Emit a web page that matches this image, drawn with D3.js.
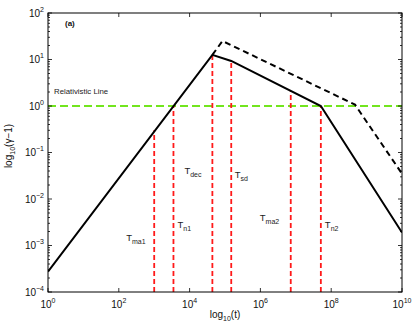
<!DOCTYPE html>
<html><head><meta charset="utf-8">
<script src="https://cdn.jsdelivr.net/npm/d3@7"></script>
<style>
html,body{margin:0;padding:0;background:#fff;}
svg{display:block;font-family:"Liberation Sans",Arial,Helvetica,sans-serif;}
</style></head>
<body><svg id="c" width="415" height="330"></svg>
<script>
// ---- data ----
const solidT = [1, 4.4e4, 1.5e5, 5.1e7, 1e10];
const solidG = [2.75e-4, 12.6, 9.3, 1.0, 1.9e-3];
const dashT = [4.4e4, 8.5e4, 4.7e8, 1e10];
const dashG = [12.6, 25, 1.07, 0.035];
const markerT = [1e3, 3.5e3, 4.4e4, 1.5e5, 7.2e6, 5.1e7];
const markerTop = [0.30, 1.0, 12.6, 9.3, 2.1, 1.0];
const markerMain = ["T", "T", "T", "T", "T", "T"];
const markerSub = ["ma1", "n1", "dec", "sd", "ma2", "n2"];
const markerLabelG = [1.25e-3, 2.4e-3, 0.0345, 0.0283, 3.4e-3, 2.4e-3];
const relLevel = 1;
const xTickExp = [0, 2, 4, 6, 8, 10];
const yTickExp = [-4, -3, -2, -1, 0, 1, 2];

// ---- layout ----
const L = 48, T = 13, R = 402, B = 292;
const svg = d3.select("#c");
const x = d3.scaleLog().domain([1, 1e10]).range([L, R]);
const y = d3.scaleLog().domain([1e-4, 1e2]).range([B, T]);

svg.append("defs").append("clipPath").attr("id", "clip")
  .append("rect").attr("x", L).attr("y", T).attr("width", R - L).attr("height", B - T);
const g = svg.append("g").attr("clip-path", "url(#clip)");

// relativistic line
g.append("line").attr("x1", L).attr("x2", R).attr("y1", y(relLevel)).attr("y2", y(relLevel))
  .attr("stroke", "#72e51e").attr("stroke-width", 2).attr("stroke-dasharray", "8,4");

// red markers
markerT.forEach((t, i) => {
  g.append("line").attr("x1", x(t)).attr("x2", x(t)).attr("y1", B).attr("y2", y(markerTop[i]))
    .attr("stroke", "#ff1a1a").attr("stroke-width", 1.8).attr("stroke-dasharray", "5,3");
});

const line = d3.line().x(d => x(d[0])).y(d => y(d[1]));
g.append("path").attr("d", line(solidT.map((t, i) => [t, solidG[i]])))
  .attr("fill", "none").attr("stroke", "#000").attr("stroke-width", 2).attr("stroke-linejoin", "miter");
g.append("path").attr("d", line(dashT.map((t, i) => [t, dashG[i]])))
  .attr("fill", "none").attr("stroke", "#000").attr("stroke-width", 2).attr("stroke-dasharray", "6,4");

// frame
svg.append("rect").attr("x", L).attr("y", T).attr("width", R - L).attr("height", B - T)
  .attr("fill", "none").attr("stroke", "#000").attr("stroke-width", 1);

// axes ticks (inward)
const ax = svg.append("g").attr("stroke", "#000").attr("stroke-width", 0.8);
xTickExp.forEach(e => {
  const px = x(Math.pow(10, e));
  ax.append("line").attr("x1", px).attr("x2", px).attr("y1", B).attr("y2", B - 4);
  ax.append("line").attr("x1", px).attr("x2", px).attr("y1", T).attr("y2", T + 4);
});
y.ticks().forEach(v => {
  const py = y(v);
  const major = Math.abs(Math.log10(v) - Math.round(Math.log10(v))) < 1e-9;
  const len = major ? 4 : 2;
  ax.append("line").attr("x1", L).attr("x2", L + len).attr("y1", py).attr("y2", py);
  ax.append("line").attr("x1", R).attr("x2", R - len).attr("y1", py).attr("y2", py);
});

// tick labels
const fmtExp = e => (e < 0 ? "\u2212" + Math.abs(e) : String(e));
xTickExp.forEach(e => {
  const t = svg.append("text").attr("x", x(Math.pow(10, e))).attr("y", 308)
    .attr("text-anchor", "middle").attr("font-size", 10).attr("fill", "#111");
  t.append("tspan").text("10");
  t.append("tspan").attr("dy", -5).attr("font-size", 7).text(fmtExp(e));
});
yTickExp.forEach(e => {
  const t = svg.append("text").attr("x", L - 4).attr("y", y(Math.pow(10, e)) + 3.7)
    .attr("text-anchor", "end").attr("font-size", 10).attr("fill", "#111");
  t.append("tspan").text("10");
  t.append("tspan").attr("dy", -5).attr("font-size", 7).text(fmtExp(e));
});

// axis labels
const xl = svg.append("text").attr("x", 225).attr("y", 318).attr("text-anchor", "middle")
  .attr("font-size", 10).attr("fill", "#111");
xl.append("tspan").text("log");
xl.append("tspan").attr("dy", 3).attr("font-size", 7).text("10");
xl.append("tspan").attr("dy", -3).text("(t)");

const yl = svg.append("text").attr("transform", "translate(12,146) rotate(-90)")
  .attr("text-anchor", "middle").attr("font-size", 10).attr("fill", "#111");
yl.append("tspan").text("log");
yl.append("tspan").attr("dy", 3).attr("font-size", 7).text("10");
yl.append("tspan").attr("dy", -3).text("(\u03b3\u22121)");

// annotations
svg.append("text").attr("x", 65).attr("y", 25.5).attr("font-size", 8).attr("font-weight", "bold")
  .attr("fill", "#111").text("(a)");
svg.append("text").attr("x", 54).attr("y", y(relLevel) - 12.5).attr("font-size", 7.8)
  .attr("fill", "#222").text("Relativistic Line");

const labelDx = [-28, 4, -28, 3.5, -31, 4];
markerT.forEach((t, i) => {
  const tx = svg.append("text").attr("x", x(t) + labelDx[i]).attr("y", y(markerLabelG[i]))
    .attr("font-size", 9.5).attr("fill", "#222");
  tx.append("tspan").text(markerMain[i]);
  tx.append("tspan").attr("dy", 3).attr("font-size", 7).text(markerSub[i]);
});
</script></body></html>
